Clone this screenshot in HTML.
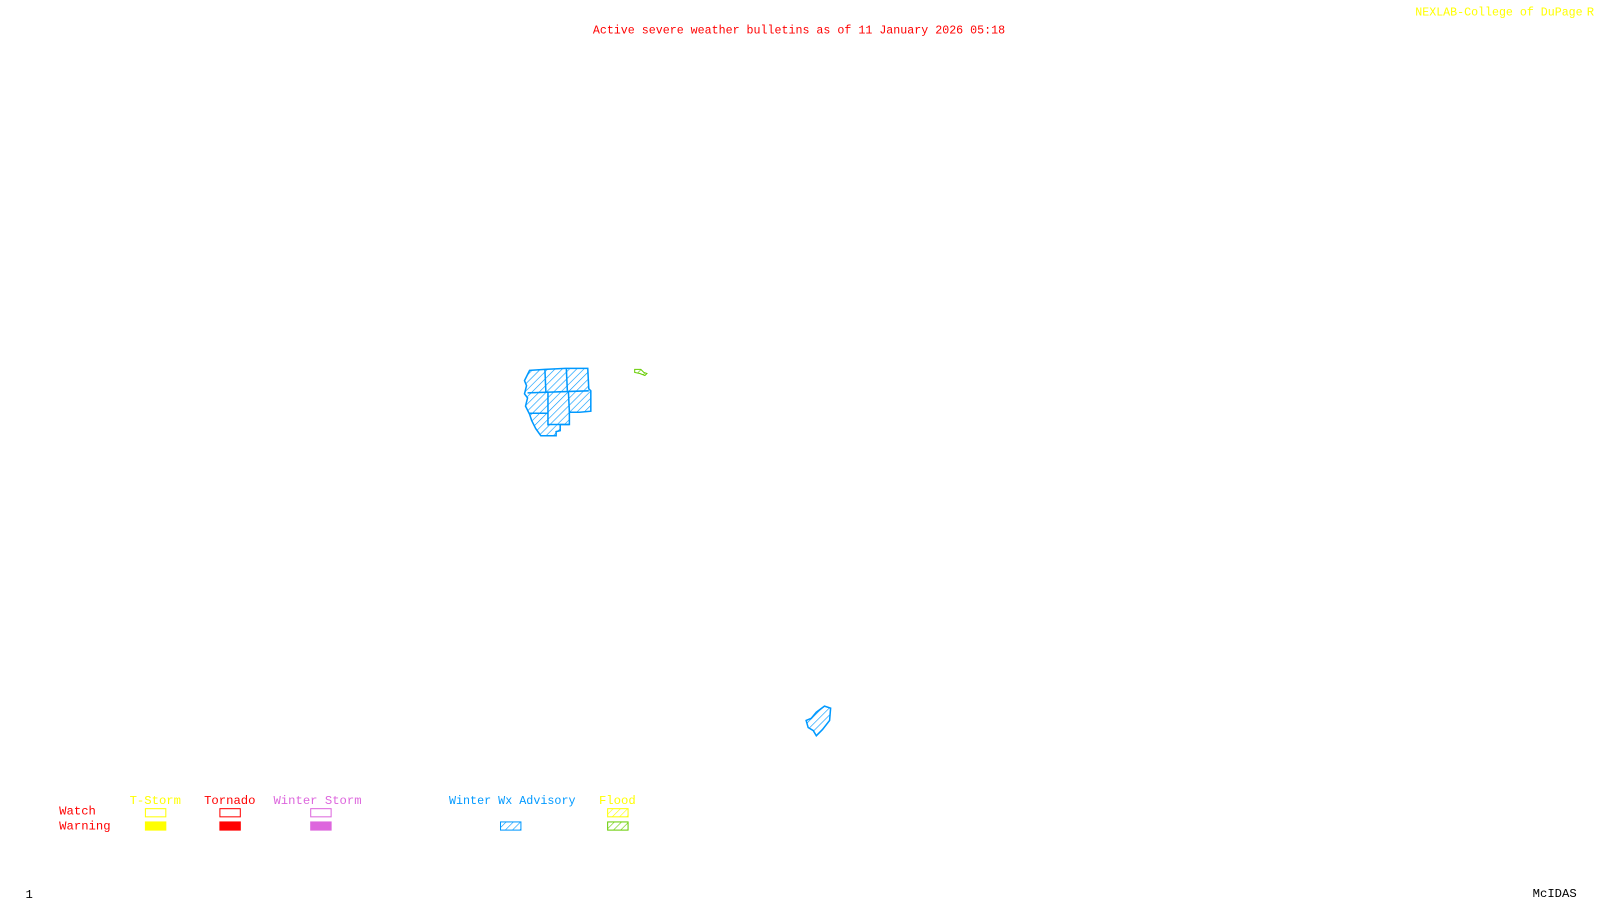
<!DOCTYPE html>
<html><head><meta charset="utf-8"><style>
html,body{margin:0;padding:0;background:#fff;width:1600px;height:900px;overflow:hidden}
svg{display:block}
text{font-family:"Liberation Mono",monospace;font-size:12px}
</style></head><body>
<svg width="1600" height="900" viewBox="0 0 1568 882" preserveAspectRatio="none">
<defs>
<pattern id="hb" width="5" height="5" patternUnits="userSpaceOnUse" patternTransform="rotate(45)"><line x1="0" y1="0" x2="0" y2="5" stroke="#0099ff" stroke-width="1.2"/></pattern>
<pattern id="hg" width="5" height="5" patternUnits="userSpaceOnUse" patternTransform="rotate(45)"><line x1="0" y1="0" x2="0" y2="5" stroke="#66cc00" stroke-width="1.2"/></pattern>
<pattern id="hy" width="5" height="5" patternUnits="userSpaceOnUse" patternTransform="rotate(45)"><line x1="0" y1="0" x2="0" y2="5" stroke="#ffff00" stroke-width="1.2"/></pattern>
</defs>
<text x="581" y="33" fill="#ff0000" textLength="404" lengthAdjust="spacingAndGlyphs">Active severe weather bulletins as of 11 January 2026 05:18</text>
<text x="1387" y="15" fill="#ffff00" textLength="164" lengthAdjust="spacingAndGlyphs">NEXLAB-College of DuPage</text>
<text x="1555" y="15" fill="#ffff00">R</text>
<polygon points="519,363 534,362 554,361 576,361 577,381 579,383 579,403 568,404 558,404 558,416 549,416 549,422 545,423 545,427 530,427 525,420 521,412 519,406 515,398 517,390 514,386 516,378 514,373" fill="url(#hb)" stroke="#0099ff" stroke-width="1.5"/>
<g stroke="#0099ff" stroke-width="1.5" fill="none">
<line x1="534" y1="362" x2="535" y2="385"/><line x1="555" y1="361" x2="556" y2="383"/>
<line x1="517" y1="385" x2="577" y2="383"/><line x1="537" y1="384" x2="537" y2="417"/>
<line x1="557" y1="383" x2="558" y2="404"/><line x1="519" y1="405" x2="537" y2="405"/>
<line x1="537" y1="416" x2="558" y2="416"/>
</g>
<polygon points="622,362 628,362 631,365 634,366 632,368 627,366 622,365" fill="url(#hg)" stroke="#66cc00" stroke-width="1"/>
<polygon points="808,692 814,694 813,706 806,715 800,721 797,716 792,713 790,706 795,704 800,698" fill="url(#hb)" stroke="#0099ff" stroke-width="1.5"/>
<text x="58" y="798" fill="#ff0000">Watch</text>
<text x="58" y="813" fill="#ff0000">Warning</text>
<text x="127" y="788" fill="#ffff00">T-Storm</text>
<text x="200" y="788" fill="#ff0000">Tornado</text>
<text x="268" y="788" fill="#dd66dd">Winter Storm</text>
<text x="440" y="788" fill="#0099ff" textLength="124" lengthAdjust="spacingAndGlyphs">Winter Wx Advisory</text>
<text x="587" y="788" fill="#ffff00">Flood</text>
<rect x="142.5" y="792.5" width="20" height="8" fill="none" stroke="#ffff00"/>
<rect x="142" y="805" width="21" height="9" fill="#ffff00"/>
<rect x="215.5" y="792.5" width="20" height="8" fill="none" stroke="#ff0000"/>
<rect x="215" y="805" width="21" height="9" fill="#ff0000"/>
<rect x="304.5" y="792.5" width="20" height="8" fill="none" stroke="#dd66dd"/>
<rect x="304" y="805" width="21" height="9" fill="#dd66dd"/>
<rect x="490.5" y="805.5" width="20" height="8" fill="url(#hb)" stroke="#0099ff"/>
<rect x="595.5" y="792.5" width="20" height="8" fill="url(#hy)" stroke="#ffff00"/>
<rect x="595.5" y="805.5" width="20" height="8" fill="url(#hg)" stroke="#66cc00"/>
<text x="25" y="880" fill="#000" font-size="11">1</text>
<text x="1502" y="879" fill="#000" font-size="11">McIDAS</text>
</svg>
</body></html>
